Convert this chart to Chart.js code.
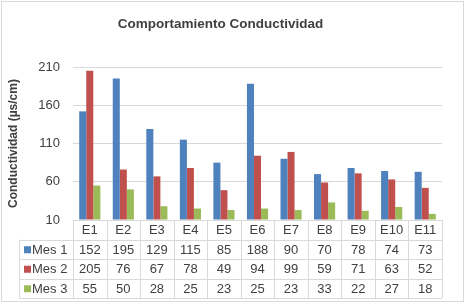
<!DOCTYPE html>
<html>
<head>
<meta charset="utf-8">
<script src="https://cdn.jsdelivr.net/npm/chart.js@4"></script>
<style>
  body { margin: 0; background: #fff; }
</style>
</head>
<body>
<canvas id="chart-bar" width="465" height="303"></canvas>
<script>
var estaciones = ["E1", "E2", "E3", "E4", "E5", "E6", "E7", "E8", "E9", "E10", "E11"];
var mes1 = [152, 195, 129, 115, 85, 188, 90, 70, 78, 74, 73];
var mes2 = [205, 76, 67, 78, 49, 94, 99, 59, 71, 63, 52];
var mes3 = [55, 50, 28, 25, 23, 25, 23, 33, 22, 27, 18];
var nombres = ["Mes 1", "Mes 2", "Mes 3"];
var colores = ["#4F81BD", "#C0504D", "#9BBB59"];
var yTicks = [10, 60, 110, 160, 210];

var textColor = "#404040";
var lineColor = "#D9D9D9";

// marco, titulo y tabla de datos bajo el grafico
var tablaPlugin = {
    id: "tabla",
    beforeDraw: function (chart) {
        var ctx = chart.ctx;
        ctx.save();
        ctx.fillStyle = "#fff";
        ctx.fillRect(0, 0, chart.width, chart.height);
        ctx.strokeStyle = lineColor;
        ctx.lineWidth = 1;
        ctx.strokeRect(1.5, 1.5, chart.width - 3, chart.height - 3);
        ctx.restore();
    },
    afterDraw: function (chart) {
        var ctx = chart.ctx;
        var x = chart.scales.x;
        var area = chart.chartArea;
        var w = x.getPixelForValue(1) - x.getPixelForValue(0);
        var rowH = 19.5;
        var top = area.bottom;
        var legLeft = 19;
        var series = [mes1, mes2, mes3];

        ctx.save();
        // titulo
        ctx.fillStyle = textColor;
        ctx.font = "bold 13.5px 'Liberation Sans', Arial, sans-serif";
        ctx.textAlign = "center";
        ctx.textBaseline = "middle";
        ctx.fillText("Comportamiento Conductividad", 220.5, 24.5);

        // lineas de la tabla
        ctx.strokeStyle = lineColor;
        ctx.lineWidth = 1;
        ctx.beginPath();
        ctx.moveTo(area.left, Math.round(top) + 0.5);
        ctx.lineTo(area.right, Math.round(top) + 0.5);
        for (var r = 1; r <= 4; r++) {
            var yy = Math.round(top + r * rowH) + 0.5;
            ctx.moveTo(legLeft, yy);
            ctx.lineTo(area.right, yy);
        }
        for (var i = 0; i <= estaciones.length; i++) {
            var xx = Math.round(area.left + i * w) + 0.5;
            ctx.moveTo(xx, top);
            ctx.lineTo(xx, top + 4 * rowH);
        }
        ctx.moveTo(legLeft + 0.5, top + rowH);
        ctx.lineTo(legLeft + 0.5, top + 4 * rowH);
        ctx.stroke();

        // textos
        ctx.font = "13px 'Liberation Sans', Arial, sans-serif";
        ctx.fillStyle = textColor;
        ctx.textAlign = "center";
        for (var c = 0; c < estaciones.length; c++) {
            var cx = x.getPixelForValue(c);
            ctx.fillText(estaciones[c], cx, top + rowH / 2 + 1);
            for (var s = 0; s < series.length; s++) {
                ctx.fillText(String(series[s][c]), cx, top + (s + 1.5) * rowH + 1);
            }
        }
        ctx.textAlign = "left";
        for (var k = 0; k < nombres.length; k++) {
            var cy = top + (k + 1.5) * rowH;
            ctx.fillStyle = colores[k];
            ctx.fillRect(24, cy - 3, 7, 7);
            ctx.fillStyle = textColor;
            ctx.fillText(nombres[k], 32, cy + 1);
        }
        ctx.restore();
    }
};

var ctx = document.getElementById("chart-bar").getContext("2d");

new Chart(ctx, {
    type: "bar",
    data: {
        labels: estaciones,
        datasets: [{
            label: nombres[0],
            data: mes1,
            backgroundColor: colores[0],
            borderWidth: 0,
            base: 10
        },
        {
            label: nombres[1],
            data: mes2,
            backgroundColor: colores[1],
            borderWidth: 0,
            base: 10
        },
        {
            label: nombres[2],
            data: mes3,
            backgroundColor: colores[2],
            borderWidth: 0,
            base: 10
        }]
    },
    options: {
        responsive: false,
        animation: false,
        devicePixelRatio: 1,
        datasets: {
            bar: {
                categoryPercentage: 0.63,
                barPercentage: 1
            }
        },
        layout: {
            padding: { left: 0, top: 67, right: 23, bottom: 83 }
        },
        plugins: {
            legend: { display: false },
            title: { display: false },
            tooltip: { enabled: false }
        },
        scales: {
            x: {
                display: false
            },
            y: {
                min: 10,
                max: 210,
                afterFit: function (scale) {
                    scale.width = 73;
                },
                afterBuildTicks: function (scale) {
                    scale.ticks = yTicks.map(function (v) { return { value: v }; });
                },
                grid: {
                    color: lineColor,
                    drawTicks: false
                },
                border: { display: false },
                ticks: {
                    padding: 13,
                    color: textColor,
                    font: {
                        size: 13,
                        family: "'Liberation Sans', Arial, sans-serif"
                    }
                },
                title: {
                    display: true,
                    text: "Conductividad (µs/cm)",
                    color: textColor,
                    padding: { top: 6, bottom: 0 },
                    font: {
                        size: 12,
                        weight: "bold",
                        family: "'Liberation Sans', Arial, sans-serif"
                    }
                }
            }
        }
    },
    plugins: [tablaPlugin]
});
</script>
</body>
</html>
